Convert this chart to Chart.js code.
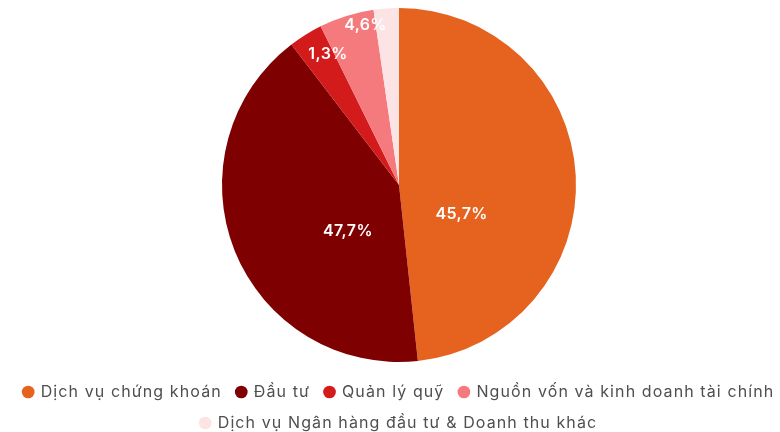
<!DOCTYPE html>
<html>
<head>
<meta charset="utf-8">
<script src="https://cdn.jsdelivr.net/npm/chart.js@4"></script>
<style>
  html, body { margin: 0; padding: 0; background: #fff; overflow: hidden; }
  #khung { width: 798px; height: 432px; }
</style>
</head>
<body>
<div id="khung"><canvas id="bieuDo"></canvas></div>
<script>
// du lieu doc tu hinh
const danhMuc = [
  "Dịch vụ chứng khoán",
  "Đầu tư",
  "Quản lý quỹ",
  "Nguồn vốn và kinh doanh tài chính",
  "Dịch vụ Ngân hàng đầu tư & Doanh thu khác"
];
const giaTri = [48.3, 41.3, 3.1, 5.0, 2.3];
const nhanPhanTram = ["45,7%", "47,7%", "1,3%", "4,6%", ""];
const mauSac = ["#E5621F", "#7E0000", "#D41B1B", "#F47A7D", "#FCE3E4"];

// ve nhan % len tung lat
const nhanLat = {
  id: "nhanLat",
  afterDatasetsDraw(chart) {
    const ctx = chart.ctx;
    const meta = chart.getDatasetMeta(0);
    ctx.save();
    ctx.letterSpacing = "0.4px";
    ctx.fillStyle = "#ffffff";
    ctx.font = "600 16px Inter";
    ctx.textAlign = "center";
    ctx.textBaseline = "middle";
    meta.data.forEach((arc, i) => {
      const txt = nhanPhanTram[i];
      if (!txt) return;
      const p = arc.getProps(["x", "y", "startAngle", "endAngle", "outerRadius"], true);
      let giua = (p.startAngle + p.endAngle) / 2;
      const lon = (p.endAngle - p.startAngle) > 1;
      let r;
      if (lon) {
        // keo nhan lon xuong phia duoi mot chut
        giua = giua * 0.7 + (Math.PI / 2) * 0.3;
        r = p.outerRadius * 0.39;
      } else {
        giua += (p.endAngle - p.startAngle) * 0.3;
        r = p.outerRadius * (i === 2 ? 0.84 : 0.92);
      }
      ctx.fillText(txt, p.x + Math.cos(giua) * r, p.y + Math.sin(giua) * r);
    });
    ctx.restore();
  }
};

// gian chu cho chu chu giai
const gianChu = {
  id: "gianChu",
  beforeUpdate(chart) { chart.ctx.letterSpacing = "1.1px"; },
  beforeDraw(chart) { chart.ctx.letterSpacing = "1.1px"; }
};

function veBieuDo() {
  new Chart(document.getElementById("bieuDo"), {
    type: "pie",
    data: {
      labels: danhMuc,
      datasets: [{
        data: giaTri,
        backgroundColor: mauSac,
        borderWidth: 0
      }]
    },
    options: {
      responsive: true,
      maintainAspectRatio: false,
      animation: false,
      layout: { padding: { top: 8, bottom: -9 } },
      plugins: {
        tooltip: { enabled: false },
        legend: {
          position: "bottom",
          title: { display: true, text: "", font: { size: 5 }, padding: { top: 1, bottom: 0 } },
          labels: {
            usePointStyle: true,
            pointStyle: "circle",
            boxWidth: 9,
            boxHeight: 9,
            padding: 15,
            color: "#4f4f4f",
            font: { family: "Inter", size: 16 }
          }
        }
      }
    },
    plugins: [nhanLat, gianChu]
  });
}

Promise.all([
  document.fonts.load("16px Inter"),
  document.fonts.load("600 16px Inter")
]).then(veBieuDo, veBieuDo);
</script>
</body>
</html>
